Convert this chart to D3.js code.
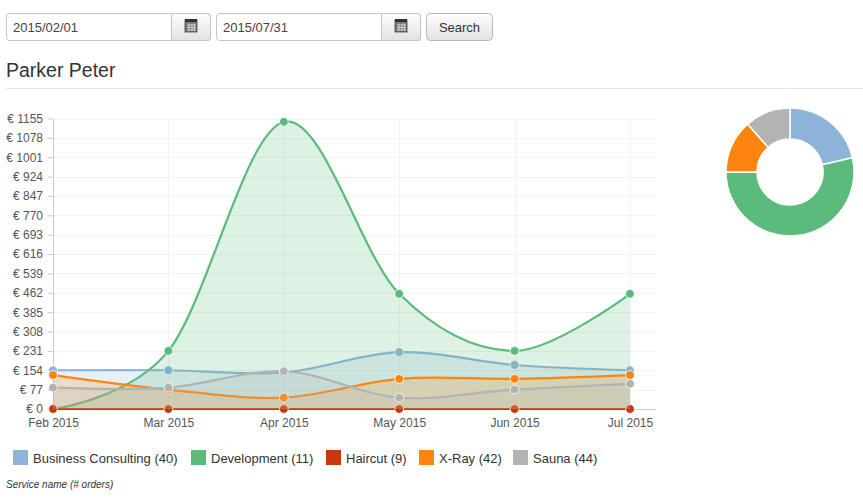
<!DOCTYPE html>
<html><head><meta charset="utf-8">
<script src="https://d3js.org/d3.v7.min.js"></script>
<style>
html,body{margin:0;padding:0;background:#fff;}
svg{display:block;font-family:"Liberation Sans",Arial,sans-serif;}
</style></head><body><svg id="c" width="863" height="499"></svg>
<script>
const months=["Feb 2015","Mar 2015","Apr 2015","May 2015","Jun 2015","Jul 2015"];
const yTickValues=[0,77,154,231,308,385,462,539,616,693,770,847,924,1001,1078,1155];
const seriesNames=["Business Consulting (40)","Development (11)","Haircut (9)","X-Ray (42)","Sauna (44)"];
const seriesColors=["#8db3d9","#5abb7c","#c8380e","#fd850f","#b3b3b3"];
const business=[154,154,145,226,175,154];
const development=[0,231,1142,458,231,458];
const haircut=[0,0,0,0,0,0];
const xray=[135,77,45,120,120,135];
const sauna=[85,85,150,45,77,100];
const seriesValues=[business,development,haircut,xray,sauna];
const fromDate="2015/02/01",toDate="2015/07/31",title="Parker Peter",buttonLabel="Search",legendNote="Service name (# orders)";

const svg=d3.select("#c");
const x=d3.scalePoint().domain(months).range([53,630]);
const y=d3.scaleLinear().domain([0,1155]).range([409,118.5]);
const curve=d3.curveCardinal.tension(0);

function inputGroup(x0,w,val){
  const g=svg.append("g");
  g.append("rect").attr("x",x0+.5).attr("y",13.5).attr("width",w).attr("height",27).attr("rx",3).attr("fill","#fff").attr("stroke","#c4c4c4");
  const grad=x0+w-39;
  g.append("path").attr("d",`M${grad+.5} 13.5H${x0+w-2.5}a3 3 0 0 1 3 3V37.5a3 3 0 0 1-3 3H${grad+.5}Z`).attr("fill","url(#btn)").attr("stroke","#c4c4c4");
  g.append("text").attr("x",x0+7).attr("y",31.5).attr("font-size",13).attr("fill","#444").text(val);
  const cx=grad+20;
  g.append("rect").attr("x",cx-6).attr("y",20).attr("width",12).attr("height",12).attr("fill","#777").attr("stroke","#444").attr("stroke-width",.8);
  g.append("rect").attr("x",cx-6).attr("y",19).attr("width",12).attr("height",3).attr("fill","#333");
  g.append("path").attr("d",`M${cx-4} 25H${cx+5}M${cx-4} 27.5H${cx+5}M${cx-4} 30H${cx+5}M${cx-2} 23.5V31M${cx+1} 23.5V31M${cx+3.5} 23.5V31`).attr("stroke","#eee").attr("stroke-width",.7);
}
const defs=svg.append("defs");
const lg=defs.append("linearGradient").attr("id","btn").attr("x1",0).attr("y1",0).attr("x2",0).attr("y2",1);
lg.append("stop").attr("offset",0).attr("stop-color","#fefefe");
lg.append("stop").attr("offset",1).attr("stop-color","#e2e2e2");
inputGroup(6,204,fromDate);
inputGroup(216,204,toDate);
svg.append("rect").attr("x",426.5).attr("y",13.5).attr("width",66).attr("height",27).attr("rx",4).attr("fill","url(#btn)").attr("stroke","#b8b8b8");
svg.append("text").attr("x",459.5).attr("y",31.5).attr("text-anchor","middle").attr("font-size",13).attr("fill","#333").text(buttonLabel);
svg.append("text").attr("x",6).attr("y",77).attr("font-size",19.5).attr("fill","#333").text(title);
svg.append("line").attr("x1",6).attr("x2",863).attr("y1",88.5).attr("y2",88.5).attr("stroke","#e3e3e3");

// grid
svg.append("g").selectAll("line").data(yTickValues.slice(1)).join("line")
 .attr("x1",53).attr("x2",656).attr("y1",d=>Math.round(y(d))+.5).attr("y2",d=>Math.round(y(d))+.5).attr("stroke","#f2f2f2");
svg.append("g").selectAll("line").data(months.slice(1)).join("line")
 .attr("x1",d=>Math.round(x(d))+.5).attr("x2",d=>Math.round(x(d))+.5).attr("y1",118).attr("y2",409).attr("stroke","#f2f2f2");

// axes
const ay=svg.append("g").attr("transform","translate(53,0)").call(d3.axisLeft(y).tickValues(yTickValues).tickFormat(d=>"€ "+d).tickSize(5).tickPadding(5).tickSizeOuter(0));
const ax=svg.append("g").attr("transform","translate(0,409)").call(d3.axisBottom(x).tickSize(0).tickPadding(9));
ax.select(".domain").remove();
svg.append("line").attr("x1",53).attr("x2",656).attr("y1",409.5).attr("y2",409.5).attr("stroke","#ccc");
ay.select(".domain").attr("stroke","#ccc");
ay.selectAll(".tick line").attr("stroke","#ccc");
[ay,ax].forEach(a=>a.selectAll("text").attr("font-size",12).attr("fill","#555").attr("font-family","'Liberation Sans',Arial,sans-serif"));

// series, each drawn over the previous one
const area=d3.area().x((d,i)=>x(months[i])).y0(y(0)).y1(d=>y(d)).curve(curve);
const line=d3.line().x((d,i)=>x(months[i])).y(d=>y(d)).curve(curve);
seriesValues.forEach((v,i)=>{
  const g=svg.append("g");
  g.append("path").attr("d",area(v)).attr("fill",seriesColors[i]).attr("fill-opacity",.2);
  g.append("path").attr("d",line(v)).attr("fill","none").attr("stroke",seriesColors[i]).attr("stroke-width",2.2);
  g.append("g").selectAll("circle").data(v).join("circle")
   .attr("cx",(d,j)=>x(months[j])).attr("cy",d=>y(d)).attr("r",4.4)
   .attr("fill",seriesColors[i]).attr("stroke","#fff").attr("stroke-opacity",.8).attr("stroke-width",1);
});

// legend
let lx=13;
const legendW=[178,135,93,94,90];
seriesNames.forEach((n,i)=>{
  svg.append("rect").attr("x",lx).attr("y",450).attr("width",15).attr("height",15).attr("fill",seriesColors[i]);
  svg.append("text").attr("x",lx+20).attr("y",462.5).attr("font-size",13).attr("fill","#333").text(n);
  lx+=legendW[i];
});
svg.append("text").attr("x",6).attr("y",488).attr("font-size",10).attr("font-style","italic").attr("fill","#333").text(legendNote);

// donut
const totals=seriesValues.map(v=>d3.sum(v));
const arcs=d3.pie().sort(null)(totals);
const arc=d3.arc().innerRadius(33).outerRadius(64);
svg.append("g").attr("transform","translate(790,172)").selectAll("path").data(arcs).join("path")
 .attr("d",arc).attr("fill",(d,i)=>seriesColors[i]).attr("stroke","#fff").attr("stroke-width",1.5);
</script></body></html>
